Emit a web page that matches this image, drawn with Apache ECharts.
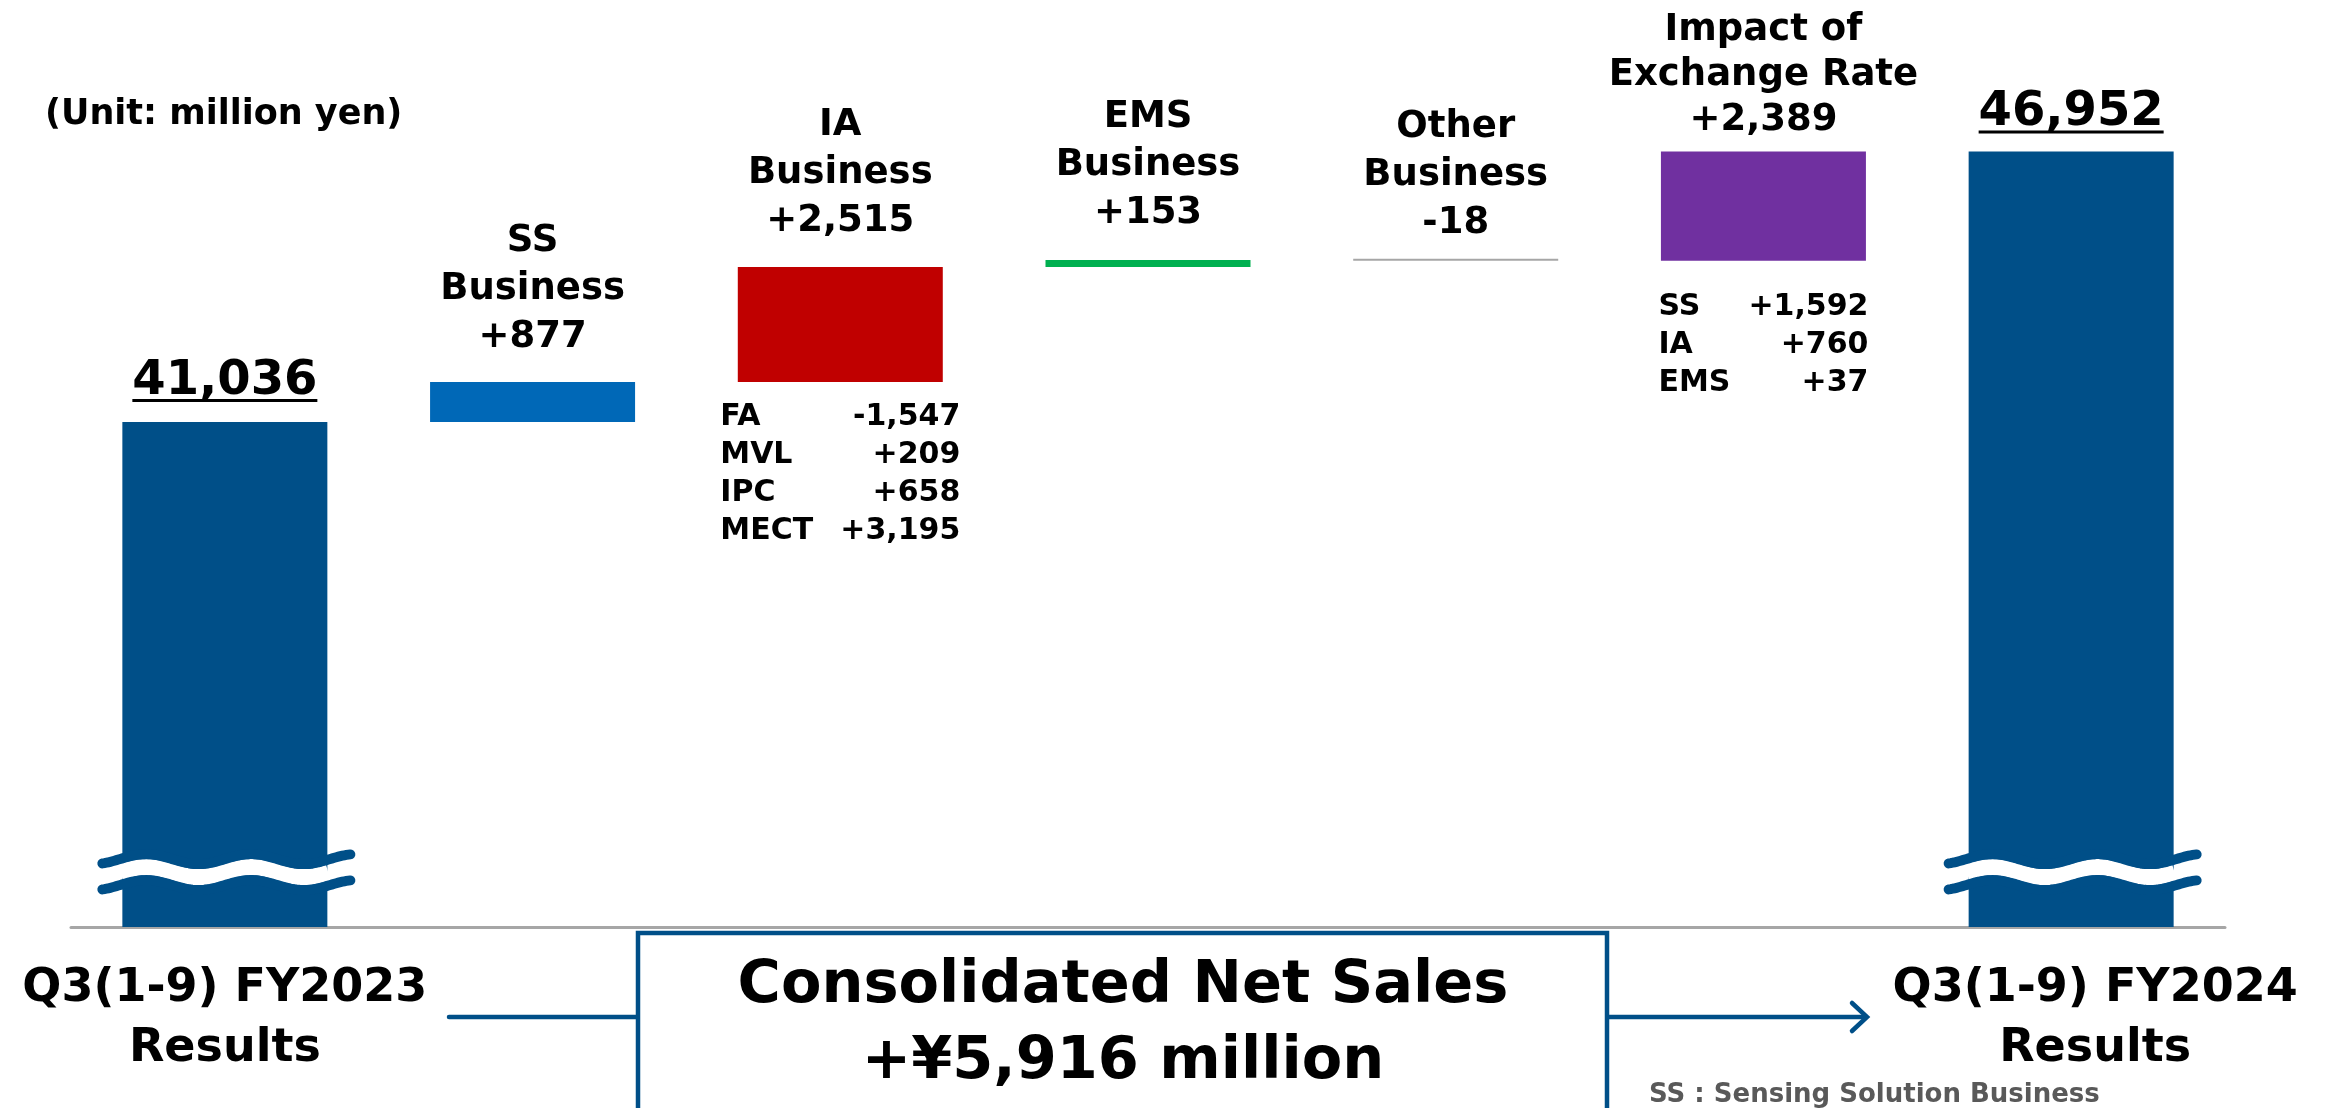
<!DOCTYPE html>
<html>
<head>
<meta charset="utf-8">
<title>Consolidated Net Sales Q3(1-9) FY2024</title>
<script src="https://cdn.jsdelivr.net/npm/echarts@6.0.0/dist/echarts.min.js"></script>
<style>
  html, body { margin: 0; padding: 0; background: #fff; }
  #chart { width: 2333px; height: 1108px; }
</style>
</head>
<body>
<div id="chart"></div>
<script>
// ---- data (million yen) ----
const categories = ['Q3(1-9) FY2023\nResults', 'SS\nBusiness', 'IA\nBusiness', 'EMS\nBusiness',
  'Other\nBusiness', 'Impact of\nExchange Rate', 'Q3(1-9) FY2024\nResults'];
const changes = [41036, 877, 2515, 153, -18, 2389, 46952];
const iaNames = ['FA', 'MVL', 'IPC', 'MECT'];
const iaValues = [-1547, 209, 658, 3195];
const fxNames = ['SS', 'IA', 'EMS'];
const fxValues = [1592, 760, 37];
const breakValue = 31200; // where the axis-break wave sits on the two total bars

const colors = ['#004f88', '#0068b7', '#c00000', '#00b050', '#a6a6a6', '#7030a0', '#004f88'];
const labelGap = [20, 21, 22, 23, 11, 9, 18];
const labelLine = [0, 48, 48, 48, 48, 45, 0];
const FONT = '"DejaVu Sans", Verdana, sans-serif';
const BAR_W = 205;
const DARK = '#004f88';

const fmt = v => v.toLocaleString('en-US');
const sign = v => (v > 0 ? '+' : '') + fmt(v);

function measure(text, size) {
  const ctx = document.createElement('canvas').getContext('2d');
  ctx.font = 'bold ' + size + 'px ' + FONT;
  return Math.round(ctx.measureText(text).width);
}

// waterfall: invisible base + visible step
const last = changes.length - 1;
const base = [];
const step = [];
let running = changes[0];
changes.forEach((v, i) => {
  if (i === 0 || i === last) {
    base.push(0);
    step.push(v);
    return;
  }
  base.push(v >= 0 ? running : running + v);
  step.push(Math.abs(v));
  running += v;
});

const textStyle = { fontFamily: FONT, fontWeight: 'bold', color: '#000' };

const stepData = step.map((v, i) => {
  const total = i === 0 || i === last;
  const label = total
    ? {
        formatter: '{n|' + fmt(changes[i]) + '}\n{u| }',
        rich: {
          n: { ...textStyle, fontSize: 48, lineHeight: 36 },
          u: { width: measure(fmt(changes[i]), 48), height: 3, lineHeight: 3, fontSize: 1, backgroundColor: '#000' },
        },
      }
    : {
        formatter: categories[i] + '\n' + sign(changes[i]),
        ...textStyle,
        fontSize: 37,
        lineHeight: labelLine[i],
      };
  return {
    value: v,
    itemStyle: { color: colors[i] },
    label: { show: true, position: 'top', distance: labelGap[i], ...label },
  };
});

// breakdown tables under the IA and exchange-rate bars
const rows = (names, values) => names.map((n, j) => '{k|' + n + '}{v|' + sign(values[j]) + '}').join('\n');
const breakdown = (names, values, kw, vw, lh, gap) => ({
  show: true,
  position: 'insideTop',
  distance: gap,
  formatter: rows(names, values),
  rich: {
    k: { ...textStyle, fontSize: 30, lineHeight: lh, width: kw, align: 'left' },
    v: { ...textStyle, fontSize: 30, lineHeight: lh, width: vw, align: 'right' },
  },
});

const baseData = base.map((v, i) => {
  const item = { value: v };
  if (i === 2) item.label = breakdown(iaNames, iaValues, 100, 140, 38, 16);
  if (i === 5) item.label = breakdown(fxNames, fxValues, 85, 125, 38, 27);
  return item;
});

const chart = echarts.init(document.getElementById('chart'));

const option = {
  animation: false,
  backgroundColor: '#fff',
  grid: { left: 71, right: 108, top: 12, bottom: 181, containLabel: false, outerBoundsMode: 'none' },
  xAxis: {
    type: 'category',
    data: categories,
    axisLine: { lineStyle: { color: '#a6a6a6', width: 3 } },
    axisTick: { show: false },
    axisLabel: {
      interval: 0,
      margin: 32,
      formatter: (v, i) => {
        if (i === 0) return '{a|' + v.replace('\n', '}\n{a|') + '}';
        if (i === last) return '{b|' + v.replace('\n', '}\n{b|') + '}';
        return '';
      },
      rich: {
        a: { ...textStyle, fontSize: 46, lineHeight: 60 },
        b: { ...textStyle, fontSize: 46, lineHeight: 60, padding: [0, 0, 0, 48] },
      },
    },
  },
  yAxis: { type: 'value', min: 30000, max: 50000, show: false },
  series: [
    {
      name: 'base',
      type: 'bar',
      stack: 'w',
      barWidth: BAR_W,
      silent: true,
      itemStyle: { color: 'rgba(0,0,0,0)' },
      data: baseData,
    },
    {
      name: 'change',
      type: 'bar',
      stack: 'w',
      barWidth: BAR_W,
      barMinHeight: 2,
      data: stepData,
    },
    {
      // "≈" axis-break symbol across the two total bars
      type: 'custom',
      silent: true,
      z: 5,
      data: [[0, breakValue], [last, breakValue]],
      renderItem: (params, api) => {
        const p = api.coord([api.value(0), api.value(1)]);
        const half = BAR_W / 2;
        const wave = (dy, from, to) => {
          const pts = [];
          for (let x = from; x <= to; x += 2) {
            pts.push([p[0] + x, p[1] + dy - 5 * Math.sin(2 * Math.PI * x / 105)]);
          }
          return pts;
        };
        return {
          type: 'group',
          children: [
            { type: 'polyline', shape: { points: wave(0, -half - 2, half + 2) },
              style: { stroke: '#fff', lineWidth: 16, fill: 'none' } },
            { type: 'polyline', shape: { points: wave(-13, -half - 20, half + 24) },
              style: { stroke: DARK, lineWidth: 10, lineCap: 'round', fill: 'none' } },
            { type: 'polyline', shape: { points: wave(13, -half - 20, half + 24) },
              style: { stroke: DARK, lineWidth: 10, lineCap: 'round', fill: 'none' } },
          ],
        };
      },
    },
  ],
  graphic: [
    { type: 'text', x: 45, y: 115,
      style: { text: '(Unit: million yen)', font: 'bold 35px ' + FONT, fill: '#000', verticalAlign: 'middle' } },
    { type: 'line', shape: { x1: 449, y1: 1017, x2: 638, y2: 1017 },
      style: { stroke: DARK, lineWidth: 4.5, lineCap: 'round' } },
    { type: 'line', shape: { x1: 1607, y1: 1017, x2: 1866, y2: 1017 },
      style: { stroke: DARK, lineWidth: 4.5 } },
    { type: 'polyline', shape: { points: [[1852, 1003], [1867, 1017], [1852, 1031]] },
      style: { stroke: DARK, lineWidth: 4.5, lineCap: 'round', fill: 'none' } },
    { type: 'rect', shape: { x: 638, y: 933, width: 969, height: 220 },
      style: { fill: '#fff', stroke: DARK, lineWidth: 4.5 } },
    { type: 'text', x: 1123, y: 987,
      style: { text: 'Consolidated Net Sales', font: 'bold 59px ' + FONT, fill: '#000', align: 'center', verticalAlign: 'middle' } },
    { type: 'text', x: 1123, y: 1063,
      style: { text: '+\u00a5' + fmt(changes[last] - changes[0]) + ' million', font: 'bold 59px ' + FONT, fill: '#000', align: 'center', verticalAlign: 'middle' } },
    { type: 'text', x: 1649, y: 1095,
      style: { text: 'SS : Sensing Solution Business', font: 'bold 26px ' + FONT, fill: '#595959', verticalAlign: 'middle' } },
  ],
};

chart.setOption(option);
window.addEventListener('resize', () => chart.resize());
</script>
</body>
</html>
